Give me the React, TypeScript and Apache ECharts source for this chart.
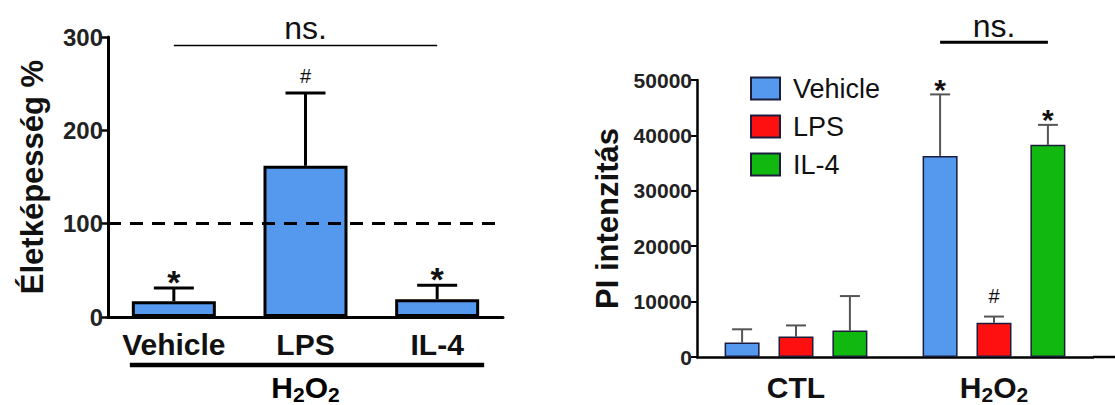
import React, { useEffect, useRef } from "react";
import * as echarts from "echarts";

const FONT = "'Liberation Sans', Arial, sans-serif";

// Left chart (viability)
const leftCategories = ["Vehicle", "LPS", "IL-4"];
const leftMeans = [17, 162, 19];
const leftErrTop = [31, 240, 34];
const leftMarks = ["*", "#", "*"];
const leftYMax = 300;
const leftYInterval = 100;
const leftRefLine = 100;
const leftBracketValue = 291;

// Right chart (PI intensity)
const rightCategories = ["CTL", "H2O2"];
const seriesNames = ["Vehicle", "LPS", "IL-4"];
const vehicleMeans = [2600, 36300];
const lpsMeans = [3700, 6200];
const il4Means = [4800, 38300];
const vehicleErrTop = [5000, 47400];
const lpsErrTop = [5700, 7300];
const il4ErrTop = [11000, 41900];
const vehicleMarks = ["", "*"];
const lpsMarks = ["", "#"];
const il4Marks = ["", "*"];
const rightYMax = 50000;
const rightYInterval = 10000;
const rightBracketValue = 56800;

const seriesColors = ["#5599EE", "#FF1010", "#10B810"];
const leftBarColor = "#5599EE";

const RIGHT_BAR_W = 35;
const RIGHT_BAR_GAP = 0.54;

const subRich = {
  b: { fontSize: 30, fontWeight: "bold", fontFamily: FONT, color: "#111", lineHeight: 36 },
  s: { fontSize: 21, fontWeight: "bold", fontFamily: FONT, color: "#111", padding: [14, 0, 0, 0] },
};

const catFormatter = (v: string) =>
  v === "H2O2" ? "{b|H}{s|2}{b|O}{s|2}" : "{b|" + v + "}";

function markStyle(mark: string, big: number) {
  return mark === "*"
    ? { fontSize: big, fontWeight: "bold" }
    : { fontSize: 20, fontWeight: "normal" };
}

function leftErrRender(params: any, api: any) {
  const cat = api.value(0);
  const mean = api.value(1);
  const top = api.value(2);
  const mark = leftMarks[params.dataIndex];
  const p0 = api.coord([cat, mean]);
  const p1 = api.coord([cat, top]);
  const x = p0[0];
  const cap = 20;
  const ms = markStyle(mark, 34);
  const dy = mark === "*" ? 6 : 17;
  return {
    type: "group",
    children: [
      { type: "line", shape: { x1: x, y1: p0[1], x2: x, y2: p1[1] }, style: { stroke: "#000", lineWidth: 3 } },
      { type: "line", shape: { x1: x - cap, y1: p1[1], x2: x + cap, y2: p1[1] }, style: { stroke: "#000", lineWidth: 3 } },
      {
        type: "text",
        x,
        y: p1[1] - dy,
        style: {
          text: mark,
          fontSize: ms.fontSize,
          fontWeight: ms.fontWeight,
          fontFamily: FONT,
          fill: "#111",
          align: "center",
          verticalAlign: "middle",
        },
      },
    ],
  };
}

function makeRightErrRender(idx: number, marks: string[]) {
  return (params: any, api: any) => {
    const cat = api.value(0);
    const mean = api.value(1);
    const top = api.value(2);
    const mark = marks[params.dataIndex];
    const p0 = api.coord([cat, mean]);
    const p1 = api.coord([cat, top]);
    const off = (idx - 1) * RIGHT_BAR_W * (1 + RIGHT_BAR_GAP);
    const x = p0[0] + off;
    const cap = 10;
    const ms = markStyle(mark, 30);
    const dy = mark === "*" ? 5 : 21;
    const children: any[] = [
      { type: "line", shape: { x1: x, y1: p0[1], x2: x, y2: p1[1] }, style: { stroke: "#555", lineWidth: 2 } },
      { type: "line", shape: { x1: x - cap, y1: p1[1], x2: x + cap, y2: p1[1] }, style: { stroke: "#555", lineWidth: 2 } },
    ];
    if (mark) {
      children.push({
        type: "text",
        x,
        y: p1[1] - dy,
        style: {
          text: mark,
          fontSize: ms.fontSize,
          fontWeight: ms.fontWeight,
          fontFamily: FONT,
          fill: "#111",
          align: "center",
          verticalAlign: "middle",
        },
      });
    }
    return { type: "group", children };
  };
}

export default function App() {
  const ref = useRef<HTMLDivElement>(null);

  useEffect(() => {
    document.body.style.margin = "0";
    if (!ref.current) return;
    const chart = echarts.init(ref.current, undefined, { renderer: "svg" });

    const rightMeans = [vehicleMeans, lpsMeans, il4Means];
    const rightTops = [vehicleErrTop, lpsErrTop, il4ErrTop];
    const rightMarks = [vehicleMarks, lpsMarks, il4Marks];

    const option: any = {
      animation: false,
      backgroundColor: "#fff",
      textStyle: { fontFamily: FONT },
      grid: [
        { left: 108, top: 37, width: 395, height: 280 },
        { left: 697, top: 80, width: 396, height: 277 },
      ],
      legend: {
        data: seriesNames,
        orient: "vertical",
        left: 745,
        top: 70,
        itemWidth: 29,
        itemHeight: 22,
        itemGap: 11,
        icon: "rect",
        selectedMode: false,
        textStyle: { fontSize: 27, fontFamily: FONT, color: "#111", padding: [0, 0, 0, 8] },
      },
      xAxis: [
        {
          type: "category",
          gridIndex: 0,
          data: leftCategories,
          axisLine: { lineStyle: { color: "#000", width: 3 } },
          axisTick: { alignWithLabel: true, length: 8, lineStyle: { color: "#000", width: 3 } },
          axisLabel: { margin: 9, formatter: catFormatter, rich: subRich },
        },
        {
          type: "category",
          gridIndex: 1,
          data: rightCategories,
          axisLine: { lineStyle: { color: "#000", width: 2.5 } },
          axisTick: { alignWithLabel: true, length: 8, lineStyle: { color: "#000", width: 3 } },
          axisLabel: { margin: 12, formatter: catFormatter, rich: subRich },
        },
      ],
      yAxis: [
        {
          type: "value",
          gridIndex: 0,
          min: 0,
          max: leftYMax,
          interval: leftYInterval,
          name: "Életképesség %",
          nameLocation: "middle",
          nameGap: 60,
          nameTextStyle: { fontSize: 31, fontWeight: "bold", fontFamily: FONT, color: "#111" },
          axisLine: { show: true, lineStyle: { color: "#000", width: 3 } },
          axisTick: { show: true, length: 7, lineStyle: { color: "#000", width: 2.5 } },
          axisLabel: { fontSize: 24, fontWeight: "bold", fontFamily: FONT, color: "#222", margin: 5, formatter: (v: number) => String(v) },
          splitLine: { show: false },
        },
        {
          type: "value",
          gridIndex: 1,
          min: 0,
          max: rightYMax,
          interval: rightYInterval,
          name: "PI intenzitás",
          nameLocation: "middle",
          nameGap: 74,
          nameTextStyle: { fontSize: 31, fontWeight: "bold", fontFamily: FONT, color: "#111" },
          axisLine: { show: true, lineStyle: { color: "#000", width: 2.5 } },
          axisTick: { show: true, length: 6, lineStyle: { color: "#000", width: 2 } },
          axisLabel: { fontSize: 21, fontWeight: "bold", fontFamily: FONT, color: "#222", margin: 5, formatter: (v: number) => String(v) },
          splitLine: { show: false },
        },
      ],
      series: [
        {
          type: "bar",
          name: "Viability",
          xAxisIndex: 0,
          yAxisIndex: 0,
          data: leftMeans,
          barWidth: 84,
          itemStyle: { color: leftBarColor, borderColor: "#000", borderWidth: 3 },
          markLine: {
            silent: true,
            symbol: "none",
            label: { show: false },
            lineStyle: { type: [13, 9], color: "#000", width: 3 },
            data: [{ yAxis: leftRefLine }],
          },
        },
        {
          type: "custom",
          name: "viability-err",
          xAxisIndex: 0,
          yAxisIndex: 0,
          z: 3,
          renderItem: leftErrRender,
          data: leftMeans.map((m, i) => [i, m, leftErrTop[i]]),
        },
        ...seriesNames.map((n, si) => ({
          type: "bar",
          name: n,
          xAxisIndex: 1,
          yAxisIndex: 1,
          data: rightMeans[si],
          barWidth: RIGHT_BAR_W,
          barGap: RIGHT_BAR_GAP * 100 + "%",
          itemStyle: { color: seriesColors[si], borderColor: "#1c1c3c", borderWidth: 1.5 },
        })),
        ...seriesNames.map((n, si) => ({
          type: "custom",
          name: n + "-err",
          xAxisIndex: 1,
          yAxisIndex: 1,
          z: 1,
          renderItem: makeRightErrRender(si, rightMarks[si]),
          data: rightMeans[si].map((m, i) => [i, m, rightTops[si][i]]),
        })),
      ],
    };

    chart.setOption(option);

    const yPix = (gi: number, v: number, max: number) => {
      const a = chart.convertToPixel({ gridIndex: gi } as any, [0, 0])[1];
      const b = chart.convertToPixel({ gridIndex: gi } as any, [0, max])[1];
      return a + ((b - a) * v) / max;
    };
    const xPix = (gi: number, c: number) => chart.convertToPixel({ gridIndex: gi } as any, [c, 0])[0];

    // left
    const lx0 = xPix(0, 0);
    const lx1 = xPix(0, 1);
    const lx2 = xPix(0, 2);
    const lZero = yPix(0, 0, leftYMax);
    const lBr = yPix(0, leftBracketValue, leftYMax);
    // right
    const off = RIGHT_BAR_W * (1 + RIGHT_BAR_GAP);
    const rx1 = xPix(1, 1);
    const rZero = yPix(1, 0, rightYMax);
    const rBr = yPix(1, rightBracketValue, rightYMax);
    const rGridRight = 697 + 396;

    chart.setOption({
      graphic: [
        { type: "line", shape: { x1: lx0, y1: lBr, x2: lx2, y2: lBr }, style: { stroke: "#000", lineWidth: 1.5 } },
        {
          type: "text",
          x: lx1,
          y: lBr - 1,
          style: { text: "ns.", fontSize: 32, fontFamily: FONT, fill: "#111", align: "center", verticalAlign: "bottom" },
        },
        { type: "line", shape: { x1: lx0 - 44, y1: lZero + 48, x2: lx2 + 47, y2: lZero + 48 }, style: { stroke: "#000", lineWidth: 4.5 } },
        {
          type: "text",
          x: lx1,
          y: lZero + 52,
          style: { text: "{b|H}{s|2}{b|O}{s|2}", rich: subRich, align: "center", verticalAlign: "top" },
        },
        { type: "line", shape: { x1: rx1 - off, y1: rBr, x2: rx1 + off, y2: rBr }, style: { stroke: "#000", lineWidth: 3 } },
        {
          type: "text",
          x: rx1,
          y: rBr,
          style: { text: "ns.", fontSize: 32, fontFamily: FONT, fill: "#111", align: "center", verticalAlign: "bottom" },
        },
        { type: "line", shape: { x1: rGridRight, y1: rZero, x2: 1115, y2: rZero }, style: { stroke: "#000", lineWidth: 2.5 } },
      ],
    });

    return () => chart.dispose();
  }, []);

  return <div ref={ref} style={{ width: 1115, height: 405 }} />;
}
